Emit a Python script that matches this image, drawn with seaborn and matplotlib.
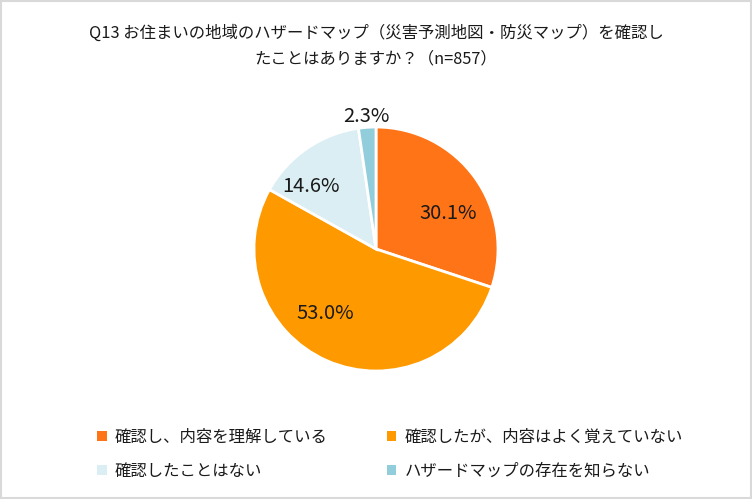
import numpy as np
import seaborn as sns
import matplotlib.pyplot as plt
from matplotlib.patches import Rectangle, Patch

categories = ["確認し、内容を理解している", "確認したが、内容はよく覚えていない",
              "確認したことはない", "ハザードマップの存在を知らない"]
shares = [30.1, 53.0, 14.6, 2.3]
title = "Q13 お住まいの地域のハザードマップ（災害予測地図・防災マップ）を確認し\nたことはありますか？（n=857）"

colors = ["#FF7417", "#FF9900", "#DAEEF3", "#92CDDC"]
# label placement (radius as fraction of pie radius, angle shift in degrees)
label_r = [0.66, 0.66, 0.75, 1.1]
label_shift = [-9, -15, 11, 0]

sns.set_theme(style="white")
plt.rcParams['font.family'] = ['Noto Sans CJK JP', 'DejaVu Sans']

fig = plt.figure(figsize=(7.52, 4.99), dpi=100)
fig.patch.set_facecolor("white")
fig.add_artist(Rectangle((0.0015, 0.002), 0.997, 0.996, transform=fig.transFigure,
                         fill=False, edgecolor="#D9D9D9", linewidth=1.5))

W, H = 752, 499
cx, cy, r = 376, 249, 122
ax = fig.add_axes([(cx - r) / W, (H - cy - r) / H, 2 * r / W, 2 * r / H])
wedges, _ = ax.pie(shares, colors=colors, startangle=90, counterclock=False,
                   radius=1, wedgeprops=dict(edgecolor="white", linewidth=2))
ax.set_xlim(-1, 1)
ax.set_ylim(-1, 1)
ax.set_aspect("equal")
ax.axis("off")

for w, v, rr, sh in zip(wedges, shares, label_r, label_shift):
    ang = np.deg2rad((w.theta1 + w.theta2) / 2 + sh)
    ax.text(rr * np.cos(ang), rr * np.sin(ang) - 0.01, f"{v:.1f}%", ha="center", va="center",
            fontsize=14.5, color="#1a1a1a")

fig.text(0.5, 1 - 46 / H, title, ha="center", va="center", fontsize=11.8,
         color="#1a1a1a", linespacing=1.7)

# matplotlib fills legend columns first, so reorder to read row by row
order = [0, 2, 1, 3]
handles = [Patch(facecolor=colors[i], edgecolor="none") for i in order]
labels = [categories[i] for i in order]
fig.legend(handles, labels, ncol=2, loc="upper left", bbox_to_anchor=(82 / W, 1 - 414 / H),
           frameon=False, fontsize=11.8, handlelength=0.6, handleheight=0.6,
           handletextpad=0.5, columnspacing=3.6, labelspacing=1.05, labelcolor="#1a1a1a")

fig.savefig("out.png", dpi=100)
